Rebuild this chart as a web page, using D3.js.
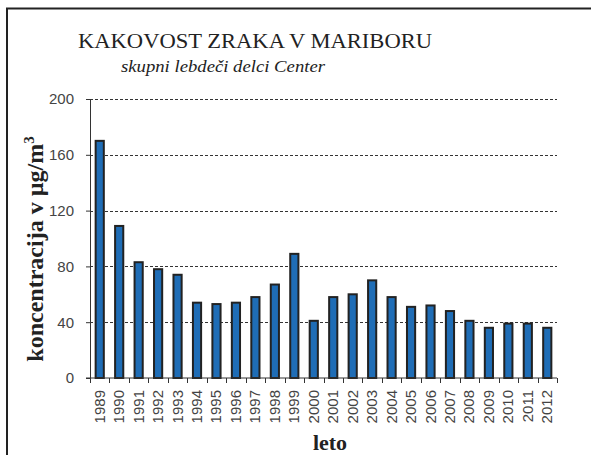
<!DOCTYPE html>
<html>
<head>
<meta charset="utf-8">
<script src="https://cdn.jsdelivr.net/npm/d3@7"></script>
<style>
    body { margin: 0; background: #fff; }
    svg { display: block; }
</style>
</head>
<body>
<div id="chart"></div>
<script>
const years = ['1989', '1990', '1991', '1992', '1993', '1994', '1995', '1996', '1997', '1998', '1999', '2000',
    '2001', '2002', '2003', '2004', '2005', '2006', '2007', '2008', '2009', '2010', '2011', '2012'];
const values = [170, 109, 83, 78, 74, 54, 53, 54, 58, 67, 89, 41,
    58, 60, 70, 58, 51, 52, 48, 41, 36, 39, 39, 36];
const yTicks = [0, 40, 80, 120, 160, 200];

const width = 591, height = 455;
const margin = { top: 99, right: 34, bottom: 77, left: 90 };
const innerW = width - margin.left - margin.right;
const innerH = height - margin.top - margin.bottom;

const svg = d3.select('#chart')
    .append('svg')
    .attr('width', width)
    .attr('height', height);

// frame
svg.append('path')
    .attr('d', `M7,${height} V8.5 H${width}`)
    .attr('fill', 'none')
    .attr('stroke', '#222')
    .attr('stroke-width', 2);

svg.append('text')
    .attr('x', 78)
    .attr('y', 48)
    .attr('textLength', 354)
    .attr('lengthAdjust', 'spacingAndGlyphs')
    .style('font-family', '"Liberation Serif", serif')
    .style('font-size', '20px')
    .attr('fill', '#222')
    .text('KAKOVOST ZRAKA V MARIBORU');
svg.append('text')
    .attr('x', 121)
    .attr('y', 72)
    .attr('textLength', 204)
    .attr('lengthAdjust', 'spacingAndGlyphs')
    .style('font-family', '"Liberation Serif", serif')
    .style('font-style', 'italic')
    .style('font-size', '17px')
    .attr('fill', '#222')
    .text('skupni lebdeči delci Center');

const x = d3.scaleBand()
    .domain(years)
    .range([0, innerW])
    .paddingInner(0.58)
    .paddingOuter(0.29);
const y = d3.scaleLinear()
    .domain([0, 200])
    .range([innerH, 0]);

const g = svg.append('g')
    .attr('transform', `translate(${margin.left},${margin.top})`);

// grid
g.selectAll('.grid')
    .data(yTicks.filter(d => d > 0))
    .enter()
    .append('line')
    .attr('x1', 0)
    .attr('x2', innerW)
    .attr('y1', d => Math.round(y(d)) + 0.5)
    .attr('y2', d => Math.round(y(d)) + 0.5)
    .attr('stroke', '#333')
    .attr('stroke-width', 1)
    .attr('stroke-dasharray', '3,2');

g.selectAll('.bar')
    .data(values)
    .enter()
    .append('rect')
    .attr('x', (d, i) => x(years[i]))
    .attr('y', d => y(d))
    .attr('width', x.bandwidth())
    .attr('height', d => innerH - y(d))
    .attr('fill', '#1f6db6')
    .attr('stroke', '#222')
    .attr('stroke-width', 2);

// y axis
const yAxis = d3.axisLeft(y)
    .tickValues(yTicks)
    .tickSize(4)
    .tickPadding(12);
const ya = g.append('g').call(yAxis);
ya.selectAll('text')
    .style('font-family', '"Liberation Sans", Arial, sans-serif')
    .style('font-size', '15px')
    .attr('fill', '#444');
ya.select('.domain').attr('stroke', '#333');
ya.selectAll('.tick line').attr('stroke', '#333');

// x axis with ticks between categories
const xa = g.append('g').attr('transform', `translate(0,${innerH})`);
xa.append('line')
    .attr('x1', -4).attr('x2', innerW)
    .attr('stroke', '#333');
const step = x.step();
xa.selectAll('.tk')
    .data(d3.range(years.length + 1))
    .enter()
    .append('line')
    .attr('x1', i => Math.round(i * step) + 0.5)
    .attr('x2', i => Math.round(i * step) + 0.5)
    .attr('y1', 0)
    .attr('y2', 5)
    .attr('stroke', '#333');
xa.selectAll('.lbl')
    .data(years)
    .enter()
    .append('text')
    .attr('transform', d => `translate(${x(d) + x.bandwidth() / 2 + 5},12) rotate(-90)`)
    .attr('text-anchor', 'end')
    .style('font-family', '"Liberation Sans", Arial, sans-serif')
    .style('font-size', '15px')
    .attr('fill', '#444')
    .text(d => d);

// axis titles
const yt = svg.append('text')
    .attr('transform', `translate(43,249) rotate(-90)`)
    .attr('text-anchor', 'middle')
    .style('font-family', '"Liberation Serif", serif')
    .style('font-weight', 'bold')
    .style('font-size', '24px')
    .attr('fill', '#222');
yt.append('tspan').text('koncentracija v µg/m');
yt.append('tspan').attr('dy', -9).style('font-size', '15px').text('3');

svg.append('text')
    .attr('x', 330)
    .attr('y', 450)
    .attr('text-anchor', 'middle')
    .style('font-family', '"Liberation Serif", serif')
    .style('font-weight', 'bold')
    .style('font-size', '22px')
    .attr('fill', '#222')
    .text('leto');
</script>
</body>
</html>
